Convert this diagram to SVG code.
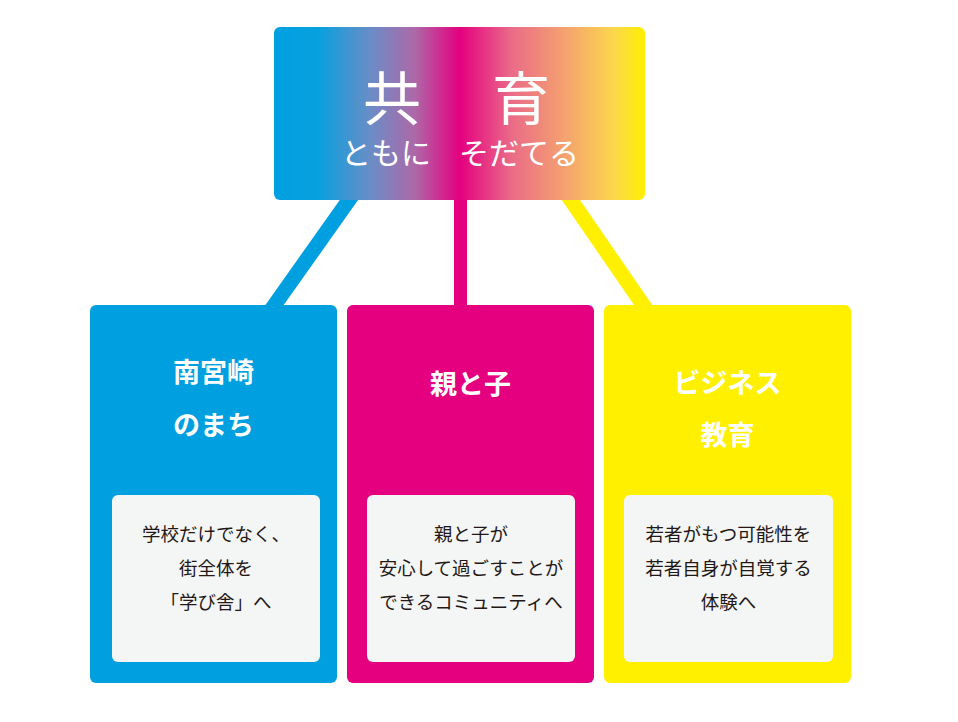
<svg xmlns="http://www.w3.org/2000/svg" width="958" height="722" viewBox="0 0 958 722">
  <defs>
    <linearGradient id="topGrad" x1="274" y1="0" x2="645" y2="0" gradientUnits="userSpaceOnUse">
      <stop offset="0" stop-color="#00a0e0"/>
      <stop offset="0.12" stop-color="#08a0de"/>
      <stop offset="0.26" stop-color="#6a8dc6"/>
      <stop offset="0.38" stop-color="#ae68a8"/>
      <stop offset="0.50" stop-color="#e4007f"/>
      <stop offset="0.64" stop-color="#ea6b88"/>
      <stop offset="0.80" stop-color="#f5a86c"/>
      <stop offset="0.92" stop-color="#fcd84a"/>
      <stop offset="1" stop-color="#fff000"/>
    </linearGradient>
  </defs>
  <style>
    .top { font-family: "Noto Sans CJK JP", "Noto Sans", sans-serif; fill: #ffffff; text-anchor: middle; }
    .title { font-family: "Noto Sans CJK JP", "Noto Sans", sans-serif; font-weight: 700; font-size: 27px; fill: #ffffff; text-anchor: middle; }
    .body { font-family: "Noto Sans CJK JP", "Noto Sans", sans-serif; font-size: 18.5px; fill: #231815; text-anchor: middle; }
    .panel { fill: #f4f5f5; }
    .conn { stroke-width: 15; fill: none; stroke-linecap: butt; }
  </style>
  <rect width="958" height="722" fill="#ffffff"/>

  <g id="connectors">
    <line class="conn" x1="356" y1="190" x2="269.6" y2="312" stroke="#00a0e0"/>
    <line class="conn" x1="460.5" y1="190" x2="460.5" y2="312" stroke="#e4007f" style="stroke-width:13"/>
    <line class="conn" x1="564" y1="190" x2="648" y2="312" stroke="#fff000"/>
  </g>

  <g id="top-node">
    <rect x="274" y="27" width="371" height="173" rx="6" fill="url(#topGrad)"/>
    <text class="top" x="392" y="120" font-size="58">共</text>
    <text class="top" x="521" y="120" font-size="58">育</text>
    <text class="top" x="386" y="164" font-size="30">ともに</text>
    <text class="top" x="519" y="164" font-size="30">そだてる</text>
  </g>

  <g id="node-minamimiyazaki">
    <rect x="90" y="305" width="247" height="378" rx="6" fill="#00a0e0"/>
    <text class="title" x="213.5" y="382">南宮崎</text>
    <text class="title" x="213.5" y="435">のまち</text>
    <rect class="panel" x="112" y="495" width="208" height="167" rx="6"/>
    <text class="body" x="216" y="541">学校だけでなく、</text>
    <text class="body" x="216" y="575">街全体を</text>
    <text class="body" x="216" y="609">「学び舎」へ</text>
  </g>

  <g id="node-oyatoko">
    <rect x="347" y="305" width="247" height="378" rx="6" fill="#e4007f"/>
    <text class="title" x="470.5" y="394">親と子</text>
    <rect class="panel" x="367" y="495" width="208" height="167" rx="6"/>
    <text class="body" x="471" y="541">親と子が</text>
    <text class="body" x="471" y="575">安心して過ごすことが</text>
    <text class="body" x="471" y="609">できるコミュニティへ</text>
  </g>

  <g id="node-business">
    <rect x="604" y="305" width="247" height="378" rx="6" fill="#fff000"/>
    <text class="title" x="727.5" y="393">ビジネス</text>
    <text class="title" x="727.5" y="445">教育</text>
    <rect class="panel" x="624" y="495" width="209" height="167" rx="6"/>
    <text class="body" x="728.5" y="541">若者がもつ可能性を</text>
    <text class="body" x="728.5" y="575">若者自身が自覚する</text>
    <text class="body" x="728.5" y="609">体験へ</text>
  </g>
</svg>
